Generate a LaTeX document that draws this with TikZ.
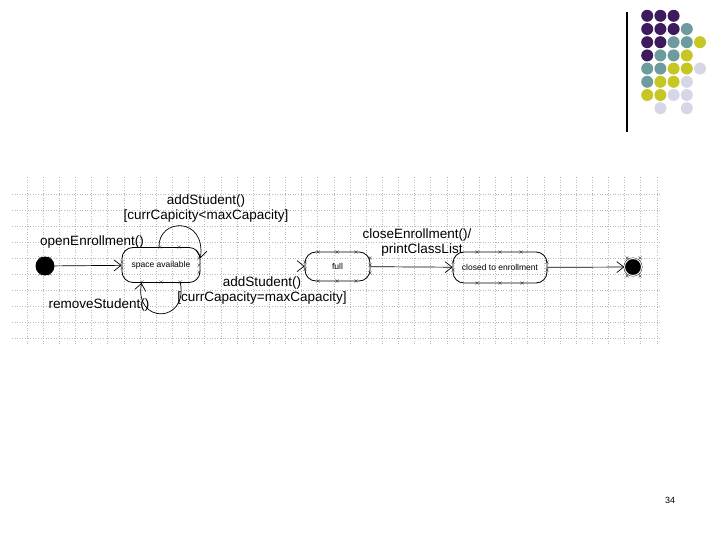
\documentclass[tikz,border=0pt]{standalone}
\usepackage{fontspec}
\setmainfont{Liberation Sans}
\usetikzlibrary{positioning,calc,arrows.meta}

\definecolor{dotpurple}{HTML}{3E1B5C}
\definecolor{dotteal}{HTML}{6E9C9E}
\definecolor{dotyellow}{HTML}{C6C624}
\definecolor{dotlav}{HTML}{D6D6E6}

\tikzset{
  state/.style={draw,rounded corners=11pt,line width=0.8pt,font=\fontsize{8.5}{10}\selectfont,inner sep=0pt},
  trans/.style={line width=0.7pt,-{Straight Barb[length=7pt,width=11pt]}},
  lbl/.style={font=\fontsize{13.5}{15}\selectfont,inner sep=0pt,align=center},
  hx/.style={line width=0.35pt,black!80},
  gridline/.style={gray!55,dotted,line width=0.6pt}
}

\begin{document}
\begin{tikzpicture}[x=1pt,y=-1pt]
  \useasboundingbox (0,0) rectangle (720,540);
  % decoration top right
  \draw[line width=1.1pt] (627,12) -- (627,132);
  \foreach \c [count=\i] in {{dotpurple,dotpurple,dotpurple},{dotpurple,dotpurple,dotpurple,dotteal},
      {dotpurple,dotpurple,dotteal,dotteal,dotyellow},{dotpurple,dotteal,dotteal,dotyellow},
      {dotteal,dotteal,dotyellow,dotyellow,dotlav},{dotteal,dotyellow,dotyellow,dotlav},
      {dotyellow,dotyellow,dotlav,dotlav},{none,dotlav,none,dotlav}}
    \foreach \d [count=\j] in \c
      \fill[fill=\d] ({634+13.2*\j},{2.6+13.2*\i}) circle (6);
  % background grid
  \foreach \k in {0,...,39}
    \draw[gridline] ({27+16.15*\k},177) -- ({27+16.15*\k},345);
  \foreach \k in {0,...,9}
    \draw[gridline] (12,{194.5+16*\k}) -- (660,{194.5+16*\k});

  % states
  \node[circle,fill=black,minimum size=19pt,inner sep=0pt] (init) at (45,266) {};
  \node[state,minimum width=78pt,minimum height=35pt] (space) at (161,265) {space available};
  \node[state,minimum width=65pt,minimum height=29pt] (full) at (337.5,266.5) {full};
  \node[state,minimum width=94pt,minimum height=31pt] (closed) at (500,267.5) {closed to enrollment};
  \node[circle,fill=black,draw=black,double=white,double distance=1pt,minimum size=17pt,inner sep=0pt] (final) at (633,267) {};

  % transitions
  \draw[trans] (init) -- (space);
  \draw[trans] ([xshift=-2pt]space.north) .. controls (158,218) and (206,216) .. ([yshift=-11pt]space.north east);
  \draw[trans] ([xshift=-20pt]space.south east) .. controls (188,324) and (134,324) .. ([xshift=20pt]space.south west);
  \draw[trans,draw=white,-{Straight Barb[length=7pt,width=11pt,color=black]}] (space) -- (full);
  \draw[trans] (full) -- (closed);
  \draw[trans] (closed) -- (final);

  % handles
  \foreach \p in {(122,262),(122,268),(199,258),(199,265),(199,272),(160,247),(179,247),(142,282),(161,282),(180,282),
                  (305,262),(305,269),(370,258),(370,265),(370,273),(318,252),(337,252),(356,252),(318,281),(337,281),(356,281),
                  (453,262),(453,270),(547,262),(547,270),(477,252),(500,252),(521,252),(477,283),(500,283),(522,283),
                  (40,258),(50,258),(40,274),(50,274),(627,258),(640,258),(627,276),(640,276)}
    \draw[hx] \p +(-1.6,-1.6) -- +(1.6,1.6) +(-1.6,1.6) -- +(1.6,-1.6);

  % labels
  \node[lbl] (lopen) at (92,242) {openEnrollment()};
  \node[lbl] (lloop) at (206,209) {addStudent()\\{}[currCapicity<maxCapacity]};
  \node[lbl] (lremove) at (99,305) {removeStudent()};
  \node[lbl] (lfull) at (262,291) {addStudent()\\{}[currCapacity=maxCapacity]};
  \node[lbl] (lclose) at (417,235) {closeEnrollment()/};
  \node[lbl] (lprint) at (422,250) {printClassList};

  \node[font=\fontsize{9}{10}\selectfont] (page) at (670,500) {34};
\end{tikzpicture}
\end{document}
